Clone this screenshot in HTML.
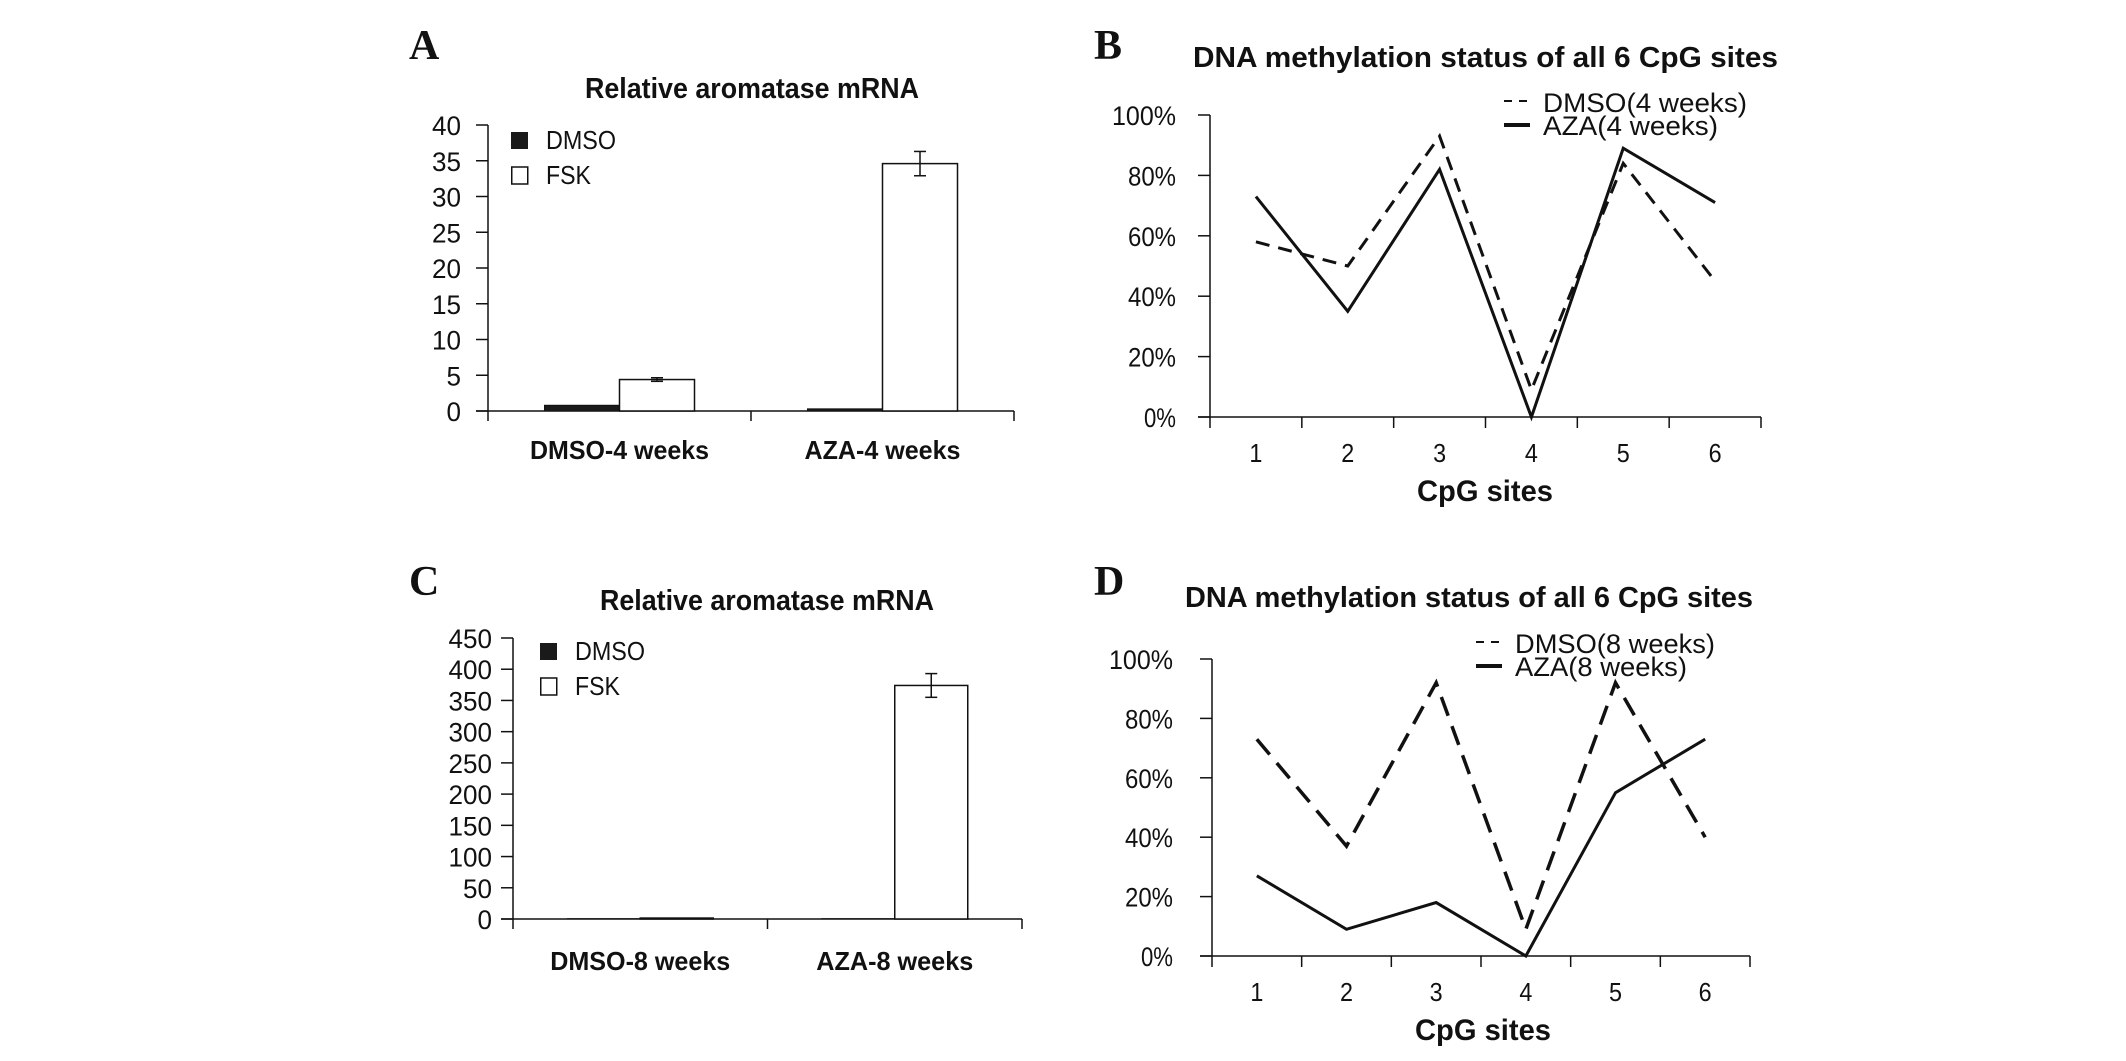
<!DOCTYPE html>
<html><head><meta charset="utf-8"><style>
html,body{margin:0;padding:0;background:#fff;}
svg{display:block;}
text{font-family:"Liberation Sans",Arial,sans-serif;fill:#111;}
.serif{font-family:"Liberation Serif","Times New Roman",serif;font-weight:bold;}
</style></head><body>
<svg id="fig" width="2126" height="1061" viewBox="0 0 2126 1061" xmlns="http://www.w3.org/2000/svg"></svg>
<script>
// ---- data ----
const barGroupsA = ["DMSO-4 weeks", "AZA-4 weeks"];
const barDmsoA = [0.8, 0.3];
const barFskA = [4.4, 34.6];
const barFskErrA = [0.25, 1.7];
const yTicksA = [0, 5, 10, 15, 20, 25, 30, 35, 40];

const barGroupsC = ["DMSO-8 weeks", "AZA-8 weeks"];
const barDmsoC = [0.5, 0.5];
const barFskC = [1.5, 374];
const barFskErrC = [0, 19];
const yTicksC = [0, 50, 100, 150, 200, 250, 300, 350, 400, 450];

const cpgSites = ["1", "2", "3", "4", "5", "6"];
const pctTicks = [0, 20, 40, 60, 80, 100];
const dmso4 = [58, 50, 93, 9, 84, 45];
const aza4 = [73, 35, 82, 0, 89, 71];
const dmso8 = [73, 37, 92, 9, 92, 40];
const aza8 = [27, 9, 18, 0, 55, 73];

const NS = "http://www.w3.org/2000/svg";
const svg = document.getElementById("fig");
function mk(tag, attrs, parent) {
  const e = document.createElementNS(NS, tag);
  for (const k in attrs) e.setAttribute(k, attrs[k]);
  (parent || svg).appendChild(e);
  return e;
}
function txt(parent, s, x, y, size, opts) {
  opts = opts || {};
  const t = mk("text", {x: x, y: y, "font-size": size}, parent);
  if (opts.bold) t.setAttribute("font-weight", "bold");
  if (opts.anchor) t.setAttribute("text-anchor", opts.anchor);
  if (opts.len) { t.setAttribute("textLength", opts.len); t.setAttribute("lengthAdjust", "spacingAndGlyphs"); }
  if (opts.cls) t.setAttribute("class", opts.cls);
  t.textContent = s;
  return t;
}
function line(parent, x1, y1, x2, y2, w, dash) {
  const l = mk("line", {x1: x1, y1: y1, x2: x2, y2: y2, stroke: "#111", "stroke-width": w || 1.5}, parent);
  if (dash) l.setAttribute("stroke-dasharray", dash);
  return l;
}

function barChart(cfg) {
  const g = mk("g", {});
  
  
  const yMax = cfg.ticks[cfg.ticks.length - 1];
  const ys = v => cfg.y0 - (v / yMax) * (cfg.y0 - cfg.yTop);
  const catW = (cfg.xEnd - cfg.x0) / cfg.groups.length;
  const xs = i => cfg.x0 + catW * (i + 0.5);
  const pl = txt(g, cfg.letter, cfg.letterX, cfg.letterY, 42, {cls: "serif"});
  
  
  const ti = txt(g, "Relative aromatase mRNA", cfg.titleX, cfg.titleY, 29, {bold: true, len: 334});
  
  
  const ya = line(g, cfg.x0, cfg.yTop, cfg.x0, cfg.y0, 1.5);
  
  
  cfg.ticks.forEach(v => {
    line(g, cfg.x0 - 12, ys(v), cfg.x0, ys(v), 1.5);
    const s = String(v);
    const t = txt(g, s, cfg.labelRight, ys(v) + 10, 27, {anchor: "end", len: s.length * 14.5});
    
    
  });
  const xa = line(g, cfg.x0 - 12, cfg.y0, cfg.xEnd, cfg.y0, 1.5);
  
  
  for (let i = 0; i <= cfg.groups.length; i++) line(g, cfg.x0 + catW * i, cfg.y0, cfg.x0 + catW * i, cfg.y0 + 10, 1.5);
  cfg.groups.forEach((name, i) => {
    const cx = xs(i);
    const d = mk("rect", {x: cx - cfg.bw, y: ys(cfg.dmso[i]), width: cfg.bw, height: cfg.y0 - ys(cfg.dmso[i]), fill: "#1a1a1a", stroke: "#111", "stroke-width": 1}, g);
    
    
    const f = mk("rect", {x: cx, y: ys(cfg.fsk[i]), width: cfg.bw, height: cfg.y0 - ys(cfg.fsk[i]), fill: "#fff", stroke: "#111", "stroke-width": 1.5}, g);
    
    
    const e = cfg.err[i];
    if (e > 0) {
      const ex = cx + cfg.bw / 2;
      const eg = mk("g", {}, g);
      
      
      line(eg, ex, ys(cfg.fsk[i] + e), ex, ys(cfg.fsk[i] - e), 1.5);
      line(eg, ex - 6, ys(cfg.fsk[i] + e), ex + 6, ys(cfg.fsk[i] + e), 1.5);
      line(eg, ex - 6, ys(cfg.fsk[i] - e), ex + 6, ys(cfg.fsk[i] - e), 1.5);
    }
    const cl = txt(g, name, cx, cfg.catY, 26, {bold: true, anchor: "middle", len: cfg.catLens[i]});
    
    
  });
  const lg = mk("g", {}, g);
  
  
  mk("rect", {x: cfg.legX, y: cfg.legY, width: 17, height: 17, fill: "#1a1a1a"}, lg);
  const l1 = txt(lg, "DMSO", cfg.legX + 35, cfg.legY + 17, 26, {len: 70});
  
  
  mk("rect", {x: cfg.legX + 0.75, y: cfg.legY + 35, width: 16, height: 17, fill: "#fff", stroke: "#111", "stroke-width": 1.5}, lg);
  const l2 = txt(lg, "FSK", cfg.legX + 35, cfg.legY + 52, 26, {len: 45});
  
  
}

function lineChart(cfg) {
  const g = mk("g", {});
  
  
  const ys = v => cfg.y0 - (v / 100) * (cfg.y0 - cfg.yTop);
  const catW = (cfg.xEnd - cfg.x0) / cpgSites.length;
  const xs = i => cfg.x0 + catW * (i + 0.5);
  const pl = txt(g, cfg.letter, cfg.letterX, cfg.letterY, 42, {cls: "serif"});
  
  
  const ti = txt(g, "DNA methylation status of all 6 CpG sites", cfg.titleX, cfg.titleY, 29, {bold: true, len: cfg.titleLen});
  
  
  const ya = line(g, cfg.x0, cfg.yTop, cfg.x0, cfg.y0, 1.5);
  
  
  pctTicks.forEach(v => {
    line(g, cfg.x0 - 12, ys(v), cfg.x0, ys(v), 1.5);
    const s = v + "%";
    const t = txt(g, s, cfg.labelRight, ys(v) + 10, 27, {anchor: "end", len: s.length * 16});
    
    
  });
  const xa = line(g, cfg.x0 - 12, cfg.y0, cfg.xEnd, cfg.y0, 1.5);
  
  
  for (let i = 0; i <= cpgSites.length; i++) line(g, cfg.x0 + catW * i, cfg.y0, cfg.x0 + catW * i, cfg.y0 + 11, 1.5);
  cpgSites.forEach((s, i) => {
    const t = txt(g, s, xs(i), cfg.y0 + 45, 26, {anchor: "middle", len: 13});
    
    
  });
  const xt = txt(g, "CpG sites", cfg.xTitleX, cfg.y0 + 84, 30, {bold: true, len: 136});
  
  
  const ptsD = cfg.dmso.map((v, i) => xs(i) + "," + ys(v)).join(" ");
  const pd = mk("polyline", {points: ptsD, fill: "none", stroke: "#111", "stroke-width": cfg.dashW, "stroke-dasharray": cfg.dash}, g);
  
  
  const ptsA = cfg.aza.map((v, i) => xs(i) + "," + ys(v)).join(" ");
  const pa = mk("polyline", {points: ptsA, fill: "none", stroke: "#111", "stroke-width": 3}, g);
  
  
  const lg = mk("g", {}, g);
  
  
  line(lg, cfg.legX, cfg.legY, cfg.legX + 26, cfg.legY, 2, "8,7");
  const l1 = txt(lg, cfg.dmsoLabel, cfg.legX + 39, cfg.legY + 11, 27, {len: cfg.legLens[0]});
  
  
  line(lg, cfg.legX, cfg.legY + 24, cfg.legX + 26, cfg.legY + 24, 4);
  const l2 = txt(lg, cfg.azaLabel, cfg.legX + 39, cfg.legY + 34, 27, {len: cfg.legLens[1]});
  
  
}

barChart({name: "panel-a-bar-chart", letter: "A", letterX: 409, letterY: 59, titleX: 585, titleY: 98,
  x0: 488, xEnd: 1014, y0: 411, yTop: 125, ticks: yTicksA, labelRight: 461, bw: 75,
  groups: barGroupsA, dmso: barDmsoA, fsk: barFskA, err: barFskErrA, catY: 459, catLens: [179, 156],
  legX: 511, legY: 132});
barChart({name: "panel-c-bar-chart", letter: "C", letterX: 409, letterY: 595, titleX: 600, titleY: 610,
  x0: 513, xEnd: 1022, y0: 919, yTop: 638, ticks: yTicksC, labelRight: 492, bw: 73,
  groups: barGroupsC, dmso: barDmsoC, fsk: barFskC, err: barFskErrC, catY: 970, catLens: [180, 157],
  legX: 540, legY: 643});
lineChart({name: "panel-b-line-chart", letter: "B", letterX: 1094, letterY: 59, titleX: 1193, titleY: 67, titleLen: 585,
  x0: 1210, xEnd: 1761, y0: 417, yTop: 115, labelRight: 1176, xTitleX: 1417,
  dmso: dmso4, aza: aza4, dash: "14,9", dashW: 3, legX: 1504, legY: 101, legLens: [204, 175],
  dmsoLabel: "DMSO(4 weeks)", azaLabel: "AZA(4 weeks)"});
lineChart({name: "panel-d-line-chart", letter: "D", letterX: 1094, letterY: 595, titleX: 1185, titleY: 607, titleLen: 568,
  x0: 1212, xEnd: 1750, y0: 956, yTop: 659, labelRight: 1173, xTitleX: 1415,
  dmso: dmso8, aza: aza8, dash: "20,11", dashW: 3.5, legX: 1476, legY: 642, legLens: [200, 172],
  dmsoLabel: "DMSO(8 weeks)", azaLabel: "AZA(8 weeks)"});
</script>
</body></html>
